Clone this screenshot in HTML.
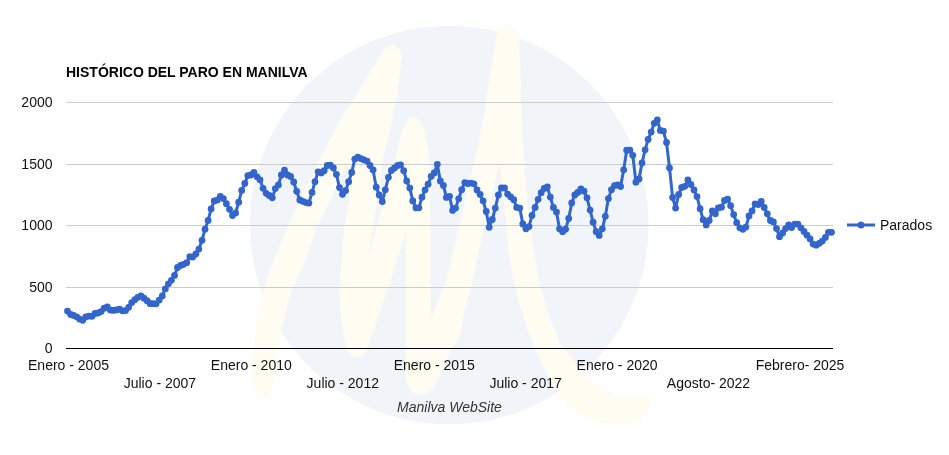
<!DOCTYPE html>
<html><head><meta charset="utf-8"><title>Histórico del paro en Manilva</title>
<style>
html,body{margin:0;padding:0;background:#fff}
svg{display:block}
text{font-family:"Liberation Sans",Arial,sans-serif;font-size:14px;fill:#111}
</style></head><body>
<svg width="949" height="455" viewBox="0 0 949 455">
<rect width="949" height="455" fill="#fff"/>
<circle cx="449.3" cy="225" r="199.3" fill="#f1f5fa"/>
<path fill="#fffdf2" d="M263,398 C258,397 255,394 254,388 C251,378 251,370 252,362 C254,338 258,312 264,290
C270,268 279,246 288.7,225 L298.9,202 L326.7,145 L340,121 L350,105 C362,85 376,62 386,48
C389,44 394,43 397,47 C401,51 402,55 401.7,58.5 C400,72 398,88 396,102.5 L390.8,125 L383.3,157 L377,200 L373.2,225 L368.5,257
L377.3,225 L384.2,200 L396,157 C398,146 400,138 402.3,131.6 C405,122 409,117 412.4,117 C417,117 422,122 425,131.6 C427,140 428.5,148 428.9,157
L430.5,225 L430.5,282 L431,318.8 L445.7,282 L459.6,225 L482.6,125 C487,95 492,62 497,34 C499,27 503,24 508,25 C514,26 518,30 519,37
C520,60 521,82 521,105 C523,142 525,180 528.6,215 L531.3,232 C533,250 537,270 541,287.6 C544,300 548,313 552.8,325 C556,333 558,338 559,342
C563,348 566,352 570.9,356.4 C578,367 586,376 595,383 C603,389 611,394 619.2,396.3 C627,398 634,397 641,395 C645,394 648,396 649,400
C651,408 648,414 642,418 C635,422 627,424 619.2,424.1 C611,424 603,423.5 595,421.7 C584,418 574,411 566,402.4 C558,393 552,384 546.7,373.4
C541,362 536,352 532.5,342 L526,325 C522,313 518,300 515.6,287.6 C511,270 508,250 507,232 L506.5,225 L499.6,163
L485,225 L483,232 L472.3,282 L464.6,310 L460,336 C458,340 455,344 452.5,347.4 C447,360 441,373 435,384.7 C431,391 426,395 420.7,394.6
C414,394 410,390 408,385 C406,380 405.3,375 405.3,370 L405.3,290 L406.5,231.3 L387.6,290 L368,347 C365,354 361,358 357,358
C352,358 348,353 346.5,347 C342,330 340,310 339,290 L342,257 L344.3,225 L349.5,200 L347.6,161.5 L330.5,200 L317.7,225 L306.5,257 L292,290
C285,313 279,338 276,362 C275,372 274,381 272,390 C270,395 267,398 263,398 Z"/>
<text x="66" y="76.8" style="font-weight:bold;fill:#000">HISTÓRICO DEL PARO EN MANILVA</text>
<rect x="66" y="287" width="767" height="1" fill="#ccc"/><rect x="66" y="225" width="767" height="1" fill="#ccc"/><rect x="66" y="164" width="767" height="1" fill="#ccc"/><rect x="66" y="102" width="767" height="1" fill="#ccc"/>
<rect x="66" y="348" width="767" height="1" fill="#000"/>
<g><text x="52.5" y="353.4" text-anchor="end">0</text><text x="52.5" y="292.4" text-anchor="end">500</text><text x="52.5" y="230.4" text-anchor="end">1000</text><text x="52.5" y="169.4" text-anchor="end">1500</text><text x="52.5" y="107.4" text-anchor="end">2000</text></g>
<g><text x="68.5" y="369.7" text-anchor="middle">Enero - 2005</text><text x="159.9" y="388.0" text-anchor="middle">Julio - 2007</text><text x="251.3" y="369.7" text-anchor="middle">Enero - 2010</text><text x="342.8" y="388.0" text-anchor="middle">Julio - 2012</text><text x="434.2" y="369.7" text-anchor="middle">Enero - 2015</text><text x="525.6" y="388.0" text-anchor="middle">Julio - 2017</text><text x="617.1" y="369.7" text-anchor="middle">Enero - 2020</text><text x="708.5" y="388.0" text-anchor="middle">Agosto- 2022</text><text x="800.0" y="369.7" text-anchor="middle">Febrero- 2025</text></g>
<text x="449.5" y="412" text-anchor="middle" style="font-style:italic;fill:#333">Manilva WebSite</text>
<polyline fill="none" stroke="#3366cc" stroke-width="3" stroke-linejoin="round" points="67.5,311.1 70.6,314.4 73.6,315.4 76.7,316.8 79.8,319.2 82.8,320.3 85.9,316.8 88.9,316.1 92.0,316.3 95.0,313.5 98.1,313.0 101.1,311.6 104.2,308.2 107.3,307.0 110.3,310.1 113.4,310.4 116.4,309.9 119.5,309.2 122.5,310.8 125.6,310.6 128.6,307.3 131.7,302.6 134.8,299.7 137.8,297.3 140.9,295.8 143.9,298.2 147.0,300.7 150.0,303.5 153.1,303.7 156.1,303.8 159.2,300.1 162.3,295.9 165.3,288.9 168.4,283.8 171.4,280.3 174.5,275.4 177.5,267.5 180.6,265.4 183.6,264.3 186.7,262.7 189.8,256.7 192.8,257.0 195.9,254.0 198.9,249.1 202.0,240.3 205.0,229.2 208.1,220.4 211.1,209.0 214.2,201.0 217.3,200.1 220.3,196.3 223.4,198.6 226.4,203.7 229.5,209.3 232.5,215.5 235.6,212.9 238.7,202.2 241.7,190.4 244.8,183.4 247.8,175.6 250.9,175.0 253.9,172.4 257.0,176.8 260.0,179.8 263.1,188.3 266.2,193.3 269.2,195.5 272.3,197.8 275.3,188.6 278.4,184.9 281.4,175.0 284.5,170.2 287.5,175.0 290.6,176.5 293.7,182.0 296.7,191.3 299.8,200.0 302.8,201.3 305.9,202.6 308.9,203.1 312.0,192.5 315.0,181.7 318.1,171.8 321.2,172.9 324.2,170.7 327.3,165.5 330.3,165.2 333.4,168.0 336.4,174.3 339.5,187.6 342.5,194.3 345.6,190.6 348.7,181.7 351.7,172.4 354.8,159.1 357.8,157.1 360.9,158.6 363.9,159.8 367.0,161.1 370.0,165.5 373.1,169.9 376.2,187.2 379.2,195.0 382.3,201.6 385.3,189.8 388.4,177.3 391.4,170.4 394.5,168.0 397.6,165.5 400.6,164.8 403.7,170.7 406.7,181.0 409.8,188.1 412.8,200.9 415.9,207.8 418.9,207.8 422.0,197.2 425.1,189.8 428.1,184.2 431.2,176.3 434.2,172.9 437.3,164.3 440.3,181.0 443.4,185.4 446.4,197.4 449.5,196.3 452.6,210.4 455.6,208.1 458.7,198.8 461.7,189.7 464.8,182.6 467.8,183.5 470.9,183.1 473.9,183.8 477.0,190.0 480.1,194.4 483.1,200.8 486.2,211.5 489.2,227.3 492.3,219.5 495.3,208.1 498.4,194.9 501.4,187.9 504.5,187.9 507.6,194.1 510.6,196.8 513.7,199.7 516.7,207.4 519.8,208.1 522.8,223.9 525.9,228.8 529.0,226.6 532.0,215.5 535.1,207.4 538.1,199.3 541.2,192.7 544.2,188.5 547.3,186.8 550.3,197.1 553.4,207.4 556.5,212.1 559.5,228.8 562.6,231.7 565.6,229.2 568.7,218.5 571.7,203.0 574.8,194.9 577.8,192.4 580.9,189.0 584.0,191.2 587.0,197.8 590.1,210.1 593.1,222.2 596.2,231.7 599.2,235.4 602.3,228.8 605.3,216.3 608.4,198.6 611.5,189.7 614.5,185.6 617.6,185.0 620.6,186.5 623.7,169.8 626.7,150.2 629.8,150.2 632.8,155.3 635.9,182.2 639.0,178.9 642.0,163.0 645.1,149.8 648.1,139.5 651.2,132.1 654.2,123.3 657.3,120.0 660.3,130.4 663.4,131.1 666.5,142.5 669.5,167.9 672.6,197.4 675.6,208.1 678.7,194.4 681.7,187.5 684.8,186.3 687.9,180.0 690.9,184.5 694.0,190.0 697.0,196.6 700.1,208.7 703.1,219.7 706.2,224.9 709.2,220.5 712.3,210.9 715.4,213.8 718.4,207.9 721.5,207.2 724.5,200.5 727.6,199.1 730.6,205.7 733.7,214.6 736.7,222.7 739.8,227.8 742.9,229.3 745.9,227.1 749.0,216.0 752.0,210.9 755.1,203.9 758.1,204.5 761.2,201.3 764.2,207.5 767.3,213.8 770.4,220.5 773.4,221.9 776.5,228.6 779.5,236.7 782.6,233.0 785.6,228.6 788.7,224.9 791.7,227.5 794.8,224.1 797.9,224.1 800.9,227.8 804.0,231.5 807.0,235.2 810.1,238.9 813.1,244.1 816.2,245.2 819.2,243.3 822.3,241.1 825.4,237.4 828.4,232.3 831.5,232.3"/>
<g fill="#3366cc"><circle cx="67.5" cy="311.1" r="3.4"/><circle cx="70.6" cy="314.4" r="3.4"/><circle cx="73.6" cy="315.4" r="3.4"/><circle cx="76.7" cy="316.8" r="3.4"/><circle cx="79.8" cy="319.2" r="3.4"/><circle cx="82.8" cy="320.3" r="3.4"/><circle cx="85.9" cy="316.8" r="3.4"/><circle cx="88.9" cy="316.1" r="3.4"/><circle cx="92.0" cy="316.3" r="3.4"/><circle cx="95.0" cy="313.5" r="3.4"/><circle cx="98.1" cy="313.0" r="3.4"/><circle cx="101.1" cy="311.6" r="3.4"/><circle cx="104.2" cy="308.2" r="3.4"/><circle cx="107.3" cy="307.0" r="3.4"/><circle cx="110.3" cy="310.1" r="3.4"/><circle cx="113.4" cy="310.4" r="3.4"/><circle cx="116.4" cy="309.9" r="3.4"/><circle cx="119.5" cy="309.2" r="3.4"/><circle cx="122.5" cy="310.8" r="3.4"/><circle cx="125.6" cy="310.6" r="3.4"/><circle cx="128.6" cy="307.3" r="3.4"/><circle cx="131.7" cy="302.6" r="3.4"/><circle cx="134.8" cy="299.7" r="3.4"/><circle cx="137.8" cy="297.3" r="3.4"/><circle cx="140.9" cy="295.8" r="3.4"/><circle cx="143.9" cy="298.2" r="3.4"/><circle cx="147.0" cy="300.7" r="3.4"/><circle cx="150.0" cy="303.5" r="3.4"/><circle cx="153.1" cy="303.7" r="3.4"/><circle cx="156.1" cy="303.8" r="3.4"/><circle cx="159.2" cy="300.1" r="3.4"/><circle cx="162.3" cy="295.9" r="3.4"/><circle cx="165.3" cy="288.9" r="3.4"/><circle cx="168.4" cy="283.8" r="3.4"/><circle cx="171.4" cy="280.3" r="3.4"/><circle cx="174.5" cy="275.4" r="3.4"/><circle cx="177.5" cy="267.5" r="3.4"/><circle cx="180.6" cy="265.4" r="3.4"/><circle cx="183.6" cy="264.3" r="3.4"/><circle cx="186.7" cy="262.7" r="3.4"/><circle cx="189.8" cy="256.7" r="3.4"/><circle cx="192.8" cy="257.0" r="3.4"/><circle cx="195.9" cy="254.0" r="3.4"/><circle cx="198.9" cy="249.1" r="3.4"/><circle cx="202.0" cy="240.3" r="3.4"/><circle cx="205.0" cy="229.2" r="3.4"/><circle cx="208.1" cy="220.4" r="3.4"/><circle cx="211.1" cy="209.0" r="3.4"/><circle cx="214.2" cy="201.0" r="3.4"/><circle cx="217.3" cy="200.1" r="3.4"/><circle cx="220.3" cy="196.3" r="3.4"/><circle cx="223.4" cy="198.6" r="3.4"/><circle cx="226.4" cy="203.7" r="3.4"/><circle cx="229.5" cy="209.3" r="3.4"/><circle cx="232.5" cy="215.5" r="3.4"/><circle cx="235.6" cy="212.9" r="3.4"/><circle cx="238.7" cy="202.2" r="3.4"/><circle cx="241.7" cy="190.4" r="3.4"/><circle cx="244.8" cy="183.4" r="3.4"/><circle cx="247.8" cy="175.6" r="3.4"/><circle cx="250.9" cy="175.0" r="3.4"/><circle cx="253.9" cy="172.4" r="3.4"/><circle cx="257.0" cy="176.8" r="3.4"/><circle cx="260.0" cy="179.8" r="3.4"/><circle cx="263.1" cy="188.3" r="3.4"/><circle cx="266.2" cy="193.3" r="3.4"/><circle cx="269.2" cy="195.5" r="3.4"/><circle cx="272.3" cy="197.8" r="3.4"/><circle cx="275.3" cy="188.6" r="3.4"/><circle cx="278.4" cy="184.9" r="3.4"/><circle cx="281.4" cy="175.0" r="3.4"/><circle cx="284.5" cy="170.2" r="3.4"/><circle cx="287.5" cy="175.0" r="3.4"/><circle cx="290.6" cy="176.5" r="3.4"/><circle cx="293.7" cy="182.0" r="3.4"/><circle cx="296.7" cy="191.3" r="3.4"/><circle cx="299.8" cy="200.0" r="3.4"/><circle cx="302.8" cy="201.3" r="3.4"/><circle cx="305.9" cy="202.6" r="3.4"/><circle cx="308.9" cy="203.1" r="3.4"/><circle cx="312.0" cy="192.5" r="3.4"/><circle cx="315.0" cy="181.7" r="3.4"/><circle cx="318.1" cy="171.8" r="3.4"/><circle cx="321.2" cy="172.9" r="3.4"/><circle cx="324.2" cy="170.7" r="3.4"/><circle cx="327.3" cy="165.5" r="3.4"/><circle cx="330.3" cy="165.2" r="3.4"/><circle cx="333.4" cy="168.0" r="3.4"/><circle cx="336.4" cy="174.3" r="3.4"/><circle cx="339.5" cy="187.6" r="3.4"/><circle cx="342.5" cy="194.3" r="3.4"/><circle cx="345.6" cy="190.6" r="3.4"/><circle cx="348.7" cy="181.7" r="3.4"/><circle cx="351.7" cy="172.4" r="3.4"/><circle cx="354.8" cy="159.1" r="3.4"/><circle cx="357.8" cy="157.1" r="3.4"/><circle cx="360.9" cy="158.6" r="3.4"/><circle cx="363.9" cy="159.8" r="3.4"/><circle cx="367.0" cy="161.1" r="3.4"/><circle cx="370.0" cy="165.5" r="3.4"/><circle cx="373.1" cy="169.9" r="3.4"/><circle cx="376.2" cy="187.2" r="3.4"/><circle cx="379.2" cy="195.0" r="3.4"/><circle cx="382.3" cy="201.6" r="3.4"/><circle cx="385.3" cy="189.8" r="3.4"/><circle cx="388.4" cy="177.3" r="3.4"/><circle cx="391.4" cy="170.4" r="3.4"/><circle cx="394.5" cy="168.0" r="3.4"/><circle cx="397.6" cy="165.5" r="3.4"/><circle cx="400.6" cy="164.8" r="3.4"/><circle cx="403.7" cy="170.7" r="3.4"/><circle cx="406.7" cy="181.0" r="3.4"/><circle cx="409.8" cy="188.1" r="3.4"/><circle cx="412.8" cy="200.9" r="3.4"/><circle cx="415.9" cy="207.8" r="3.4"/><circle cx="418.9" cy="207.8" r="3.4"/><circle cx="422.0" cy="197.2" r="3.4"/><circle cx="425.1" cy="189.8" r="3.4"/><circle cx="428.1" cy="184.2" r="3.4"/><circle cx="431.2" cy="176.3" r="3.4"/><circle cx="434.2" cy="172.9" r="3.4"/><circle cx="437.3" cy="164.3" r="3.4"/><circle cx="440.3" cy="181.0" r="3.4"/><circle cx="443.4" cy="185.4" r="3.4"/><circle cx="446.4" cy="197.4" r="3.4"/><circle cx="449.5" cy="196.3" r="3.4"/><circle cx="452.6" cy="210.4" r="3.4"/><circle cx="455.6" cy="208.1" r="3.4"/><circle cx="458.7" cy="198.8" r="3.4"/><circle cx="461.7" cy="189.7" r="3.4"/><circle cx="464.8" cy="182.6" r="3.4"/><circle cx="467.8" cy="183.5" r="3.4"/><circle cx="470.9" cy="183.1" r="3.4"/><circle cx="473.9" cy="183.8" r="3.4"/><circle cx="477.0" cy="190.0" r="3.4"/><circle cx="480.1" cy="194.4" r="3.4"/><circle cx="483.1" cy="200.8" r="3.4"/><circle cx="486.2" cy="211.5" r="3.4"/><circle cx="489.2" cy="227.3" r="3.4"/><circle cx="492.3" cy="219.5" r="3.4"/><circle cx="495.3" cy="208.1" r="3.4"/><circle cx="498.4" cy="194.9" r="3.4"/><circle cx="501.4" cy="187.9" r="3.4"/><circle cx="504.5" cy="187.9" r="3.4"/><circle cx="507.6" cy="194.1" r="3.4"/><circle cx="510.6" cy="196.8" r="3.4"/><circle cx="513.7" cy="199.7" r="3.4"/><circle cx="516.7" cy="207.4" r="3.4"/><circle cx="519.8" cy="208.1" r="3.4"/><circle cx="522.8" cy="223.9" r="3.4"/><circle cx="525.9" cy="228.8" r="3.4"/><circle cx="529.0" cy="226.6" r="3.4"/><circle cx="532.0" cy="215.5" r="3.4"/><circle cx="535.1" cy="207.4" r="3.4"/><circle cx="538.1" cy="199.3" r="3.4"/><circle cx="541.2" cy="192.7" r="3.4"/><circle cx="544.2" cy="188.5" r="3.4"/><circle cx="547.3" cy="186.8" r="3.4"/><circle cx="550.3" cy="197.1" r="3.4"/><circle cx="553.4" cy="207.4" r="3.4"/><circle cx="556.5" cy="212.1" r="3.4"/><circle cx="559.5" cy="228.8" r="3.4"/><circle cx="562.6" cy="231.7" r="3.4"/><circle cx="565.6" cy="229.2" r="3.4"/><circle cx="568.7" cy="218.5" r="3.4"/><circle cx="571.7" cy="203.0" r="3.4"/><circle cx="574.8" cy="194.9" r="3.4"/><circle cx="577.8" cy="192.4" r="3.4"/><circle cx="580.9" cy="189.0" r="3.4"/><circle cx="584.0" cy="191.2" r="3.4"/><circle cx="587.0" cy="197.8" r="3.4"/><circle cx="590.1" cy="210.1" r="3.4"/><circle cx="593.1" cy="222.2" r="3.4"/><circle cx="596.2" cy="231.7" r="3.4"/><circle cx="599.2" cy="235.4" r="3.4"/><circle cx="602.3" cy="228.8" r="3.4"/><circle cx="605.3" cy="216.3" r="3.4"/><circle cx="608.4" cy="198.6" r="3.4"/><circle cx="611.5" cy="189.7" r="3.4"/><circle cx="614.5" cy="185.6" r="3.4"/><circle cx="617.6" cy="185.0" r="3.4"/><circle cx="620.6" cy="186.5" r="3.4"/><circle cx="623.7" cy="169.8" r="3.4"/><circle cx="626.7" cy="150.2" r="3.4"/><circle cx="629.8" cy="150.2" r="3.4"/><circle cx="632.8" cy="155.3" r="3.4"/><circle cx="635.9" cy="182.2" r="3.4"/><circle cx="639.0" cy="178.9" r="3.4"/><circle cx="642.0" cy="163.0" r="3.4"/><circle cx="645.1" cy="149.8" r="3.4"/><circle cx="648.1" cy="139.5" r="3.4"/><circle cx="651.2" cy="132.1" r="3.4"/><circle cx="654.2" cy="123.3" r="3.4"/><circle cx="657.3" cy="120.0" r="3.4"/><circle cx="660.3" cy="130.4" r="3.4"/><circle cx="663.4" cy="131.1" r="3.4"/><circle cx="666.5" cy="142.5" r="3.4"/><circle cx="669.5" cy="167.9" r="3.4"/><circle cx="672.6" cy="197.4" r="3.4"/><circle cx="675.6" cy="208.1" r="3.4"/><circle cx="678.7" cy="194.4" r="3.4"/><circle cx="681.7" cy="187.5" r="3.4"/><circle cx="684.8" cy="186.3" r="3.4"/><circle cx="687.9" cy="180.0" r="3.4"/><circle cx="690.9" cy="184.5" r="3.4"/><circle cx="694.0" cy="190.0" r="3.4"/><circle cx="697.0" cy="196.6" r="3.4"/><circle cx="700.1" cy="208.7" r="3.4"/><circle cx="703.1" cy="219.7" r="3.4"/><circle cx="706.2" cy="224.9" r="3.4"/><circle cx="709.2" cy="220.5" r="3.4"/><circle cx="712.3" cy="210.9" r="3.4"/><circle cx="715.4" cy="213.8" r="3.4"/><circle cx="718.4" cy="207.9" r="3.4"/><circle cx="721.5" cy="207.2" r="3.4"/><circle cx="724.5" cy="200.5" r="3.4"/><circle cx="727.6" cy="199.1" r="3.4"/><circle cx="730.6" cy="205.7" r="3.4"/><circle cx="733.7" cy="214.6" r="3.4"/><circle cx="736.7" cy="222.7" r="3.4"/><circle cx="739.8" cy="227.8" r="3.4"/><circle cx="742.9" cy="229.3" r="3.4"/><circle cx="745.9" cy="227.1" r="3.4"/><circle cx="749.0" cy="216.0" r="3.4"/><circle cx="752.0" cy="210.9" r="3.4"/><circle cx="755.1" cy="203.9" r="3.4"/><circle cx="758.1" cy="204.5" r="3.4"/><circle cx="761.2" cy="201.3" r="3.4"/><circle cx="764.2" cy="207.5" r="3.4"/><circle cx="767.3" cy="213.8" r="3.4"/><circle cx="770.4" cy="220.5" r="3.4"/><circle cx="773.4" cy="221.9" r="3.4"/><circle cx="776.5" cy="228.6" r="3.4"/><circle cx="779.5" cy="236.7" r="3.4"/><circle cx="782.6" cy="233.0" r="3.4"/><circle cx="785.6" cy="228.6" r="3.4"/><circle cx="788.7" cy="224.9" r="3.4"/><circle cx="791.7" cy="227.5" r="3.4"/><circle cx="794.8" cy="224.1" r="3.4"/><circle cx="797.9" cy="224.1" r="3.4"/><circle cx="800.9" cy="227.8" r="3.4"/><circle cx="804.0" cy="231.5" r="3.4"/><circle cx="807.0" cy="235.2" r="3.4"/><circle cx="810.1" cy="238.9" r="3.4"/><circle cx="813.1" cy="244.1" r="3.4"/><circle cx="816.2" cy="245.2" r="3.4"/><circle cx="819.2" cy="243.3" r="3.4"/><circle cx="822.3" cy="241.1" r="3.4"/><circle cx="825.4" cy="237.4" r="3.4"/><circle cx="828.4" cy="232.3" r="3.4"/><circle cx="831.5" cy="232.3" r="3.4"/></g>
<path d="M847,225H875" stroke="#3366cc" stroke-width="3" fill="none"/>
<circle cx="861" cy="225" r="3.5" fill="#3366cc"/>
<text x="880" y="229.5">Parados</text>
</svg>
</body></html>
